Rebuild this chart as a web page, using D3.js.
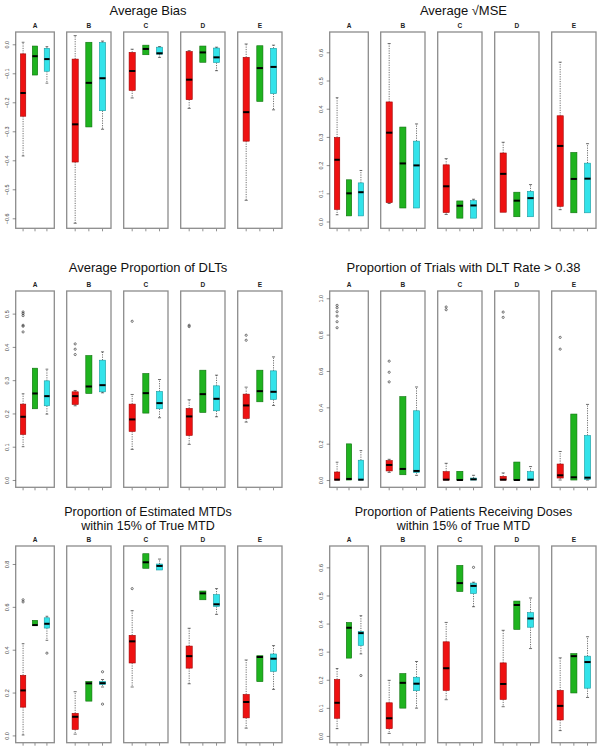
<!DOCTYPE html>
<html><head><meta charset="utf-8">
<script src="https://cdn.jsdelivr.net/npm/d3@7"></script>
<style>
body{margin:0;background:#fff;}
svg{display:block;font-family:"Liberation Sans",Arial,Helvetica,sans-serif;}
</style></head><body>
<svg id="chart" width="599" height="750"></svg>
<script>
// ---------------- DATA ----------------
const groups = ["A","B","C","D","E"];
const methods = ["Method 1","Method 2","Method 3"];
// each box: [lower whisker, Q1, median, Q3, upper whisker]
const biasM1 = [[-0.385,-0.248,-0.168,-0.033,0.007],[-0.617,-0.406,-0.276,-0.051,0.030],[-0.185,-0.159,-0.092,-0.028,-0.017],[-0.221,-0.191,-0.122,-0.025,-0.022],[-0.538,-0.334,-0.234,-0.045,0.001]];
const biasM2 = [[-0.106,-0.106,-0.041,-0.006,-0.006],[-0.285,-0.285,-0.133,0.007,0.007],[-0.036,-0.036,-0.016,-0.003,-0.003],[-0.062,-0.062,-0.028,-0.006,-0.006],[-0.197,-0.197,-0.082,-0.005,-0.005]];
const biasM3 = [[-0.134,-0.093,-0.051,-0.014,-0.008],[-0.293,-0.229,-0.117,0.006,0.011],[-0.045,-0.034,-0.031,-0.010,-0.008],[-0.091,-0.063,-0.045,-0.013,-0.010],[-0.226,-0.170,-0.078,-0.014,-0.003]];
const biasOut = [];
const biasTicks = [0,-0.1,-0.2,-0.3,-0.4,-0.5,-0.6];

const mseM1 = [[0.024,0.043,0.219,0.298,0.439],[0.064,0.067,0.315,0.424,0.631],[0.025,0.032,0.125,0.201,0.223],[0.033,0.033,0.169,0.243,0.281],[0.042,0.054,0.268,0.375,0.565]];
const mseM2 = [[0.020,0.020,0.100,0.148,0.148],[0.048,0.048,0.206,0.335,0.335],[0.012,0.012,0.056,0.073,0.073],[0.017,0.017,0.074,0.104,0.104],[0.031,0.031,0.151,0.245,0.245]];
const mseM3 = [[0.020,0.020,0.104,0.137,0.181],[0.048,0.048,0.199,0.285,0.346],[0.012,0.012,0.057,0.074,0.079],[0.017,0.017,0.083,0.107,0.131],[0.031,0.031,0.152,0.207,0.276]];
const mseOut = [];
const mseTicks = [0,0.1,0.2,0.3,0.4,0.5,0.6];

const dltM1 = [[0.100,0.137,0.190,0.228,0.259],[0.223,0.227,0.252,0.265,0.269],[0.092,0.146,0.182,0.228,0.257],[0.107,0.134,0.191,0.215,0.241],[0.174,0.185,0.224,0.258,0.279]];
const dltM2 = [[0.214,0.214,0.260,0.336,0.336],[0.260,0.260,0.281,0.374,0.374],[0.201,0.201,0.261,0.320,0.320],[0.203,0.203,0.258,0.330,0.330],[0.235,0.235,0.267,0.330,0.330]];
const dltM3 = [[0.198,0.223,0.252,0.298,0.333],[0.262,0.265,0.285,0.360,0.385],[0.187,0.214,0.231,0.266,0.302],[0.190,0.208,0.244,0.283,0.315],[0.224,0.242,0.265,0.328,0.370]];
// outliers: [group index, method index, value]
const dltOut = [[0,0,0.505],[0,0,0.500],[0,0,0.494],[0,0,0.465],[0,0,0.462],[0,0,0.445],[1,0,0.409],[1,0,0.393],[1,0,0.377],[2,0,0.477],[3,0,0.465],[3,0,0.461],[4,0,0.435],[4,0,0.420]];
const dltTicks = [0,0.1,0.2,0.3,0.4,0.5];

const rateM1 = [[0,0,0.002,0.044,0.098],[0.042,0.050,0.083,0.107,0.114],[0,0,0.002,0.046,0.092],[0,0,0.002,0.020,0.039],[0,0.011,0.026,0.088,0.157]];
const rateM2 = [[0,0,0.006,0.199,0.199],[0.029,0.029,0.061,0.459,0.459],[0,0,0,0.048,0.048],[0,0,0,0.099,0.099],[0,0,0.015,0.363,0.363]];
const rateM3 = [[0,0,0.002,0.109,0.162],[0.026,0.041,0.050,0.381,0.512],[0,0,0.004,0.011,0.026],[0,0,0.002,0.046,0.074],[0,0.004,0.013,0.245,0.416]];
const rateOut = [[0,0,0.961],[0,0,0.948],[0,0,0.926],[0,0,0.902],[0,0,0.871],[0,0,0.838],[1,0,0.654],[1,0,0.593],[1,0,0.540],[2,0,0.952],[2,0,0.937],[3,0,0.924],[3,0,0.895],[4,0,0.785],[4,0,0.720]];
const rateTicks = [0,0.2,0.4,0.6,0.8,1.0];

const mtdM1 = [[0.002,0.132,0.210,0.280,0.428],[0.006,0.028,0.087,0.103,0.204],[0.226,0.338,0.439,0.467,0.582],[0.241,0.314,0.370,0.417,0.500],[0.034,0.082,0.156,0.191,0.352]];
const mtdM2 = [[0.512,0.512,0.515,0.537,0.537],[0.160,0.160,0.243,0.252,0.252],[0.780,0.780,0.808,0.848,0.848],[0.633,0.633,0.663,0.674,0.674],[0.251,0.251,0.366,0.372,0.372]];
const mtdM3 = [[0.444,0.501,0.521,0.549,0.556],[0.226,0.237,0.244,0.252,0.261],[0.772,0.772,0.791,0.800,0.823],[0.565,0.602,0.612,0.657,0.685],[0.215,0.299,0.358,0.380,0.419]];
const mtdOut = [[0,0,0.633],[0,0,0.623],[2,0,0.685],[0,2,0.384],[1,2,0.297],[1,2,0.146]];
const mtdTicks = [0,0.2,0.4,0.6,0.8];

const patM1 = [[0.026,0.063,0.118,0.201,0.240],[0.009,0.026,0.063,0.118,0.198],[0.129,0.162,0.241,0.335,0.404],[0.104,0.130,0.185,0.260,0.376],[0.019,0.057,0.107,0.162,0.278]];
const patM2 = [[0.277,0.277,0.385,0.404,0.404],[0.099,0.099,0.189,0.222,0.222],[0.514,0.514,0.544,0.607,0.607],[0.379,0.379,0.466,0.480,0.480],[0.153,0.153,0.284,0.293,0.293]];
const patM3 = [[0.292,0.322,0.366,0.372,0.428],[0.099,0.161,0.186,0.209,0.265],[0.460,0.507,0.534,0.544,0.547],[0.311,0.387,0.418,0.439,0.491],[0.137,0.170,0.263,0.284,0.353]];
const patOut = [[0,2,0.215],[2,2,0.600]];
const patTicks = [0,0.1,0.2,0.3,0.4,0.5,0.6];

// ---------------- LAYOUT / STYLE ----------------
const colors = ["#ee1111","#1fb31f","#33e3ea"];
const strokes = ["#a00000","#0d700d","#1a9aa0"];
const colX = [0, 314];
const titleX = [148, 463.5];
const rowTop = [32, 291, 546];
const rowBottom = [228.3, 487.3, 742.7];
const subFrames = [[15.7,54.3],[66.7,111],[123.7,168],[180.7,225],[237.7,282]];

const panels = [
  {title:["Average Bias"], col:0,row:0, domain:[-0.6345,0.0424], ticks:biasTicks, stats:[biasM1,biasM2,biasM3], out:biasOut},
  {title:["Average \u221AMSE"], col:1,row:0, domain:[-0.024,0.672], ticks:mseTicks, stats:[mseM1,mseM2,mseM3], out:mseOut},
  {title:["Average Proportion of DLTs"], col:0,row:1, domain:[-0.022,0.568], ticks:dltTicks, stats:[dltM1,dltM2,dltM3], out:dltOut},
  {title:["Proportion of Trials with DLT Rate > 0.38"], col:1,row:1, domain:[-0.04,1.04], ticks:rateTicks, stats:[rateM1,rateM2,rateM3], out:rateOut},
  {title:["Proportion of Estimated MTDs","within 15% of True MTD"], col:0,row:2, domain:[-0.034,0.884], ticks:mtdTicks, stats:[mtdM1,mtdM2,mtdM3], out:mtdOut},
  {title:["Proportion of Patients Receiving Doses","within 15% of True MTD"], col:1,row:2, domain:[-0.024,0.676], ticks:patTicks, stats:[patM1,patM2,patM3], out:patOut}
];
const titleBase = [[14.5],[272],[516,530]];
const titleSize = [13,13,12.5];

const svg = d3.select("#chart");

panels.forEach(p => {
  const g = svg.append("g");
  const top = rowTop[p.row], bot = rowBottom[p.row];
  const y = d3.scaleLinear().domain(p.domain).range([bot, top]);
  // title
  p.title.forEach((t,i) => {
    g.append("text").attr("x", titleX[p.col]).attr("y", titleBase[p.row][i])
      .attr("text-anchor","middle").attr("font-size",titleSize[p.row]).attr("fill","#111").text(t);
  });
  groups.forEach((gr, gi) => {
    const x0 = colX[p.col] + subFrames[gi][0], x1 = colX[p.col] + subFrames[gi][1];
    const x = d3.scaleLinear().domain([0.38,3.62]).range([x0,x1]);
    const sg = g.append("g");
    // letter
    sg.append("text").attr("x",(x0+x1)/2).attr("y",top-4.3).attr("text-anchor","middle")
      .attr("font-size",6.5).attr("font-weight","bold").attr("fill","#222").text(gr);
    // x ticks
    [1,2,3].forEach(k => {
      sg.append("line").attr("x1",x(k)).attr("x2",x(k)).attr("y1",bot).attr("y2",bot+3)
        .attr("stroke","#444").attr("stroke-width",0.6);
    });
    // boxes
    p.stats.forEach((arr, mi) => {
      const s = arr[gi];
      const cx = x(mi+1);
      const hw = (x(1.225)-x(1));
      const sw = hw*0.5;
      // whiskers
      [[s[1],s[0]],[s[3],s[4]]].forEach(([a,b]) => {
        if (Math.abs(a-b) > 1e-9) {
          sg.append("line").attr("x1",cx).attr("x2",cx).attr("y1",y(a)).attr("y2",y(b))
            .attr("stroke","#333").attr("stroke-width",0.7).attr("stroke-dasharray","1.2,1.2");
          sg.append("line").attr("x1",cx-sw).attr("x2",cx+sw).attr("y1",y(b)).attr("y2",y(b))
            .attr("stroke","#333").attr("stroke-width",0.7);
        }
      });
      sg.append("rect").attr("x",cx-hw).attr("width",2*hw)
        .attr("y",y(s[3])).attr("height",Math.max(0.5,y(s[1])-y(s[3])))
        .attr("fill",colors[mi]).attr("stroke",strokes[mi]).attr("stroke-width",0.6);
      sg.append("line").attr("x1",cx-hw).attr("x2",cx+hw).attr("y1",y(s[2])).attr("y2",y(s[2]))
        .attr("stroke","#000").attr("stroke-width",2);
    });
    // outliers
    p.out.filter(o => o[0]===gi).forEach(o => {
      sg.append("circle").attr("cx",x(o[1]+1)).attr("cy",y(o[2])).attr("r",1.1)
        .attr("fill","none").attr("stroke","#222").attr("stroke-width",0.6);
    });
    // frame
    sg.append("rect").attr("x",x0).attr("y",top).attr("width",x1-x0).attr("height",bot-top)
      .attr("fill","none").attr("stroke","#8c8c8c").attr("stroke-width",1.3);
    // y axis on first subpanel
    if (gi===0) {
      const ax = g.append("g").attr("transform",`translate(${x0},0)`)
        .call(d3.axisLeft(y).tickValues(p.ticks).tickSize(3).tickFormat(d3.format(".1f")));
      ax.select(".domain").remove();
      ax.selectAll(".tick line").attr("stroke","#444").attr("stroke-width",0.6);
      ax.selectAll(".tick text").attr("x",0).attr("dy",0).attr("text-anchor","middle")
        .attr("transform","translate(-7.2,0) rotate(-90)")
        .attr("font-size",5.5).attr("fill","#444")
        .attr("font-family","Liberation Sans, Arial, sans-serif");
    }
  });
});
</script>
</body></html>
